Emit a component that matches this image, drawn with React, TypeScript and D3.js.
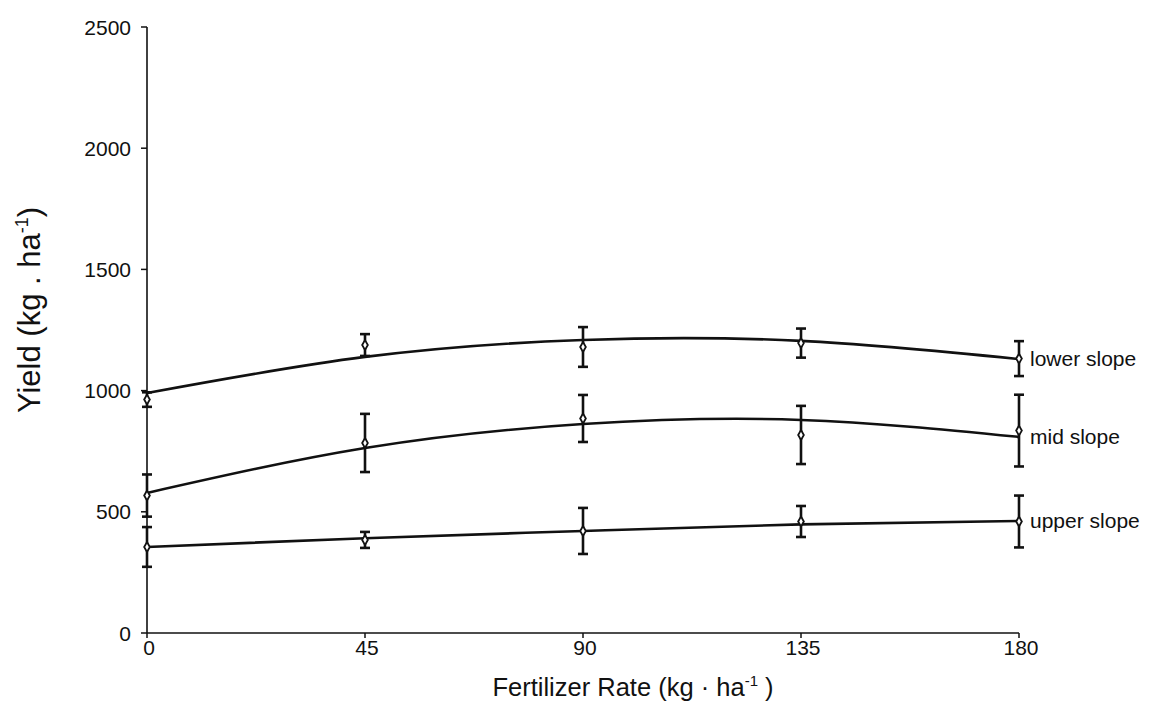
import React from "react";
import * as d3 from "d3";

const rates = [0, 45, 90, 135, 180];
const xTicks = [0, 45, 90, 135, 180];
const yTicks = [0, 500, 1000, 1500, 2000, 2500];

const seriesNames = ["lower slope", "mid slope", "upper slope"];
const lowerMean = [963, 1188, 1180, 1196, 1132];
const lowerErr = [30, 45, 82, 60, 72];
const lowerFit = [990, 1139, 1209, 1205, 1130];
const midMean = [567, 784, 885, 817, 835];
const midErr = [87, 120, 97, 120, 148];
const midFit = [578, 763, 862, 879, 809];
const upperMean = [355, 384, 421, 460, 460];
const upperErr = [82, 33, 95, 64, 107];
const upperFit = [355, 391, 421, 448, 462];

const W = 1149;
const H = 728;
const x = d3.scaleLinear().domain([0, 180]).range([147, 1019]);
const y = d3.scaleLinear().domain([0, 2500]).range([633, 27]);

const series = [
  { name: seriesNames[0], mean: lowerMean, err: lowerErr, fit: lowerFit },
  { name: seriesNames[1], mean: midMean, err: midErr, fit: midFit },
  { name: seriesNames[2], mean: upperMean, err: upperErr, fit: upperFit },
];

const line = d3
  .line<[number, number]>()
  .x((d) => x(d[0]))
  .y((d) => y(d[1]))
  .curve(d3.curveNatural);

const diamond = d3.symbol().type(d3.symbolDiamond).size(28);

export default function App() {
  const font = "'Liberation Sans', Arial, sans-serif";
  const ink = "#111";
  return (
    <svg
      width={W}
      height={H}
      style={{ position: "absolute", left: 0, top: 0, background: "#fff" }}
      fontFamily={font}
    >
      <rect width={W} height={H} fill="#fff" />
      {/* axes */}
      <line x1={x(0)} x2={x(0)} y1={y(2500)} y2={y(0)} stroke={ink} strokeWidth={1.6} />
      <line x1={x(0)} x2={x(180)} y1={y(0)} y2={y(0)} stroke={ink} strokeWidth={1.6} />
      {yTicks.map((t) => (
        <g key={"y" + t}>
          <line x1={x(0) - 6} x2={x(0)} y1={y(t)} y2={y(t)} stroke={ink} strokeWidth={1.5} />
          <text x={x(0) - 16} y={y(t)} dy="0.36em" textAnchor="end" fontSize={21} fill={ink}>
            {t}
          </text>
        </g>
      ))}
      {xTicks.map((t) => (
        <g key={"x" + t}>
          <line x1={x(t)} x2={x(t)} y1={y(0)} y2={y(0) + 5} stroke={ink} strokeWidth={1.5} />
          <text x={x(t) + 2} y={y(0) + 22} textAnchor="middle" fontSize={21} fill={ink}>
            {t}
          </text>
        </g>
      ))}
      {/* axis titles */}
      <text x={633} y={696} textAnchor="middle" fontSize={25.5} fill={ink}>
        Fertilizer Rate (kg · ha
        <tspan fontSize={15} dy={-10}>-1</tspan>
        <tspan dy={10}> )</tspan>
      </text>
      <text
        transform={`translate(40, ${310}) rotate(-90)`}
        textAnchor="middle"
        fontSize={31}
        fill={ink}
      >
        Yield (kg . ha
        <tspan fontSize={18} dy={-12}>-1</tspan>
        <tspan dy={12}>)</tspan>
      </text>
      {/* series */}
      {series.map((s) => (
        <g key={s.name}>
          <path
            d={line(rates.map((r, i) => [r, s.fit[i]]) as [number, number][]) || ""}
            fill="none"
            stroke={ink}
            strokeWidth={2.6}
          />
          {rates.map((r, i) => (
            <g key={r}>
              <line
                x1={x(r)}
                x2={x(r)}
                y1={y(s.mean[i] + s.err[i])}
                y2={y(s.mean[i] - s.err[i])}
                stroke={ink}
                strokeWidth={2.6}
              />
              <line
                x1={x(r) - 5}
                x2={x(r) + 5}
                y1={y(s.mean[i] + s.err[i])}
                y2={y(s.mean[i] + s.err[i])}
                stroke={ink}
                strokeWidth={2.6}
              />
              <line
                x1={x(r) - 5}
                x2={x(r) + 5}
                y1={y(s.mean[i] - s.err[i])}
                y2={y(s.mean[i] - s.err[i])}
                stroke={ink}
                strokeWidth={2.6}
              />
              <path
                d={diamond() || ""}
                transform={`translate(${x(r)},${y(s.mean[i])})`}
                fill="#fff"
                stroke={ink}
                strokeWidth={1.8}
              />
            </g>
          ))}
          <text
            x={x(180) + 11}
            y={y(s.fit[4])}
            dy="0.35em"
            fontSize={21}
            fill={ink}
          >
            {s.name}
          </text>
        </g>
      ))}
    </svg>
  );
}
